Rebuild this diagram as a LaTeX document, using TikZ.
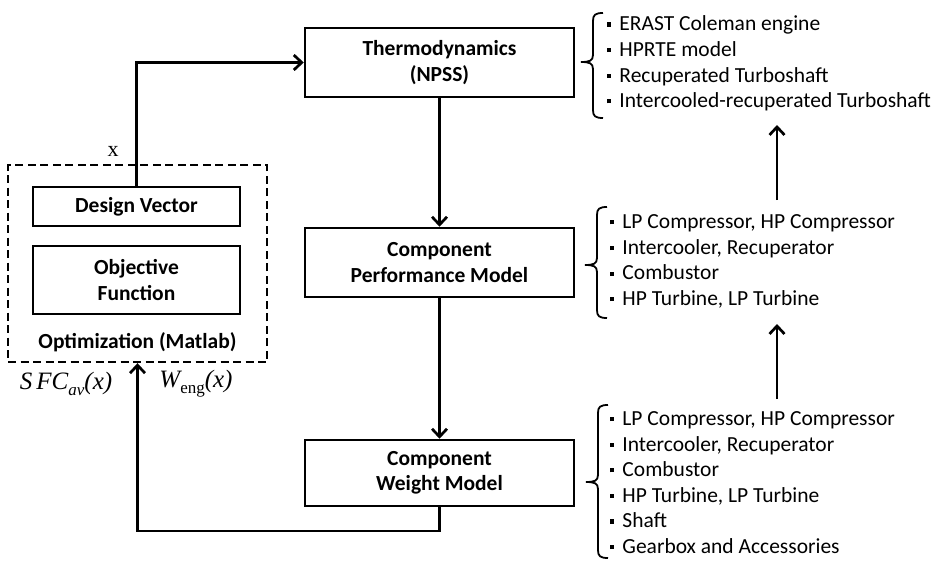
\documentclass[tikz,border=0pt]{standalone}
\usepackage{fontspec}
\setmainfont{Carlito}
\newfontfamily\tmsfont{Liberation Serif}
\usetikzlibrary{arrows.meta}

% small square bullet for the component lists
\newcommand\sqbul{\raisebox{0.2em}{\rule{0.19em}{0.19em}}\hspace{0.38em}}
% left curly bracket: x of spine, top y, bottom y, tip y
\newcommand\curlybr[4]{%
  \draw[bracket] ({#1+10},#2) .. controls ({#1+2},#2) and (#1,{#2+2}) .. (#1,{#2+8})
    -- (#1,{#4-7}) .. controls (#1,{#4-1}) and ({#1-4},#4) .. ({#1-12},#4)
    .. controls ({#1-4},#4) and (#1,{#4+1}) .. (#1,{#4+7})
    -- (#1,{#3-8}) .. controls (#1,{#3-2}) and ({#1+2},#3) .. ({#1+10},#3);}

\begin{document}
\begin{tikzpicture}[x=1pt,y=-1pt,
  box/.style={draw,line width=2.5pt,inner sep=0pt,align=center,
    font=\fontsize{21.5}{25.5}\selectfont\bfseries},
  conn/.style={line width=2.7pt,-{Straight Barb[length=8pt,width=15pt,line width=2.7pt]}},
  bracket/.style={line width=1.8pt},
  itemlist/.style={anchor=west,inner sep=0pt,align=left,
    font=\fontsize{21.5}{25.6}\selectfont},
  mathlbl/.style={inner sep=0pt,font=\fontsize{25}{27}\tmsfont\itshape}]
\useasboundingbox (0,0) rectangle (937,562);

% optimization block
\node[draw,line width=2.4pt,dash pattern=on 8pt off 4.5pt,
  minimum width=259pt,minimum height=197pt,inner sep=0pt] (opt) at (137.5,263.5) {};
\node[box,minimum width=207pt,minimum height=39pt] (dv) at (136.5,206.5) {Design Vector};
\node[box,minimum width=207pt,minimum height=68pt] (obj) at (136.5,280) {Objective\\Function};
\node[inner sep=0pt,font=\fontsize{21.5}{25}\selectfont\bfseries] (optlbl) at (137.5,342) {Optimization (Matlab)};

% model chain
\node[box,minimum width=269pt,minimum height=69pt] (thermo) at (439.5,62.5) {Thermodynamics\\(NPSS)};
\node[box,minimum width=269pt,minimum height=69pt] (perf) at (439.5,262.5) {Component\\Performance Model};
\node[box,minimum width=269pt,minimum height=66pt] (weight) at (439.5,473) {Component\\Weight Model};

% connectors
\draw[conn] (dv.north) |- (thermo.west);
\node[inner sep=0pt,font=\fontsize{22}{24}\tmsfont] (xlbl) at (113,151) {x};
\draw[conn] (thermo.south) -- (perf.north);
\draw[conn] (perf.south) -- (weight.north);
\coordinate (fb) at (439.5,531);
\draw[conn] (weight.south) -- (fb) -| (opt.south);
\node[mathlbl] (sfc) at (66,384) {S\,FC\raisebox{-0.25em}{\fontsize{17}{18}\selectfont av}(x)};
\node[mathlbl] (weng) at (196,384) {W\raisebox{-0.25em}{\fontsize{17}{18}\selectfont\upshape eng}(x)};

% component lists
\node[itemlist] (lthermo) at (607,63.5) {\sqbul ERAST Coleman engine\\\sqbul HPRTE model\\
  \sqbul Recuperated Turboshaft\\\sqbul Intercooled-recuperated Turboshaft};
\node[itemlist] (lperf) at (610,261.5) {\sqbul LP Compressor, HP Compressor\\
  \sqbul Intercooler, Recuperator\\\sqbul Combustor\\\sqbul HP Turbine, LP Turbine};
\node[itemlist] (lweight) at (610,482.5) {\sqbul LP Compressor, HP Compressor\\
  \sqbul Intercooler, Recuperator\\\sqbul Combustor\\\sqbul HP Turbine, LP Turbine\\
  \sqbul Shaft\\\sqbul Gearbox and Accessories};

\curlybr{593}{13}{118}{62}
\curlybr{597}{207}{318}{265}
\curlybr{598}{405}{558}{482}

% upward arrows between the lists
\coordinate (u1s) at (777,200);
\coordinate (u1e) at (777,125);
\coordinate (u2s) at (777,399);
\coordinate (u2e) at (777,324);
\draw[conn] (u1s) -- (u1e);
\draw[conn] (u2s) -- (u2e);
\end{tikzpicture}
\end{document}
